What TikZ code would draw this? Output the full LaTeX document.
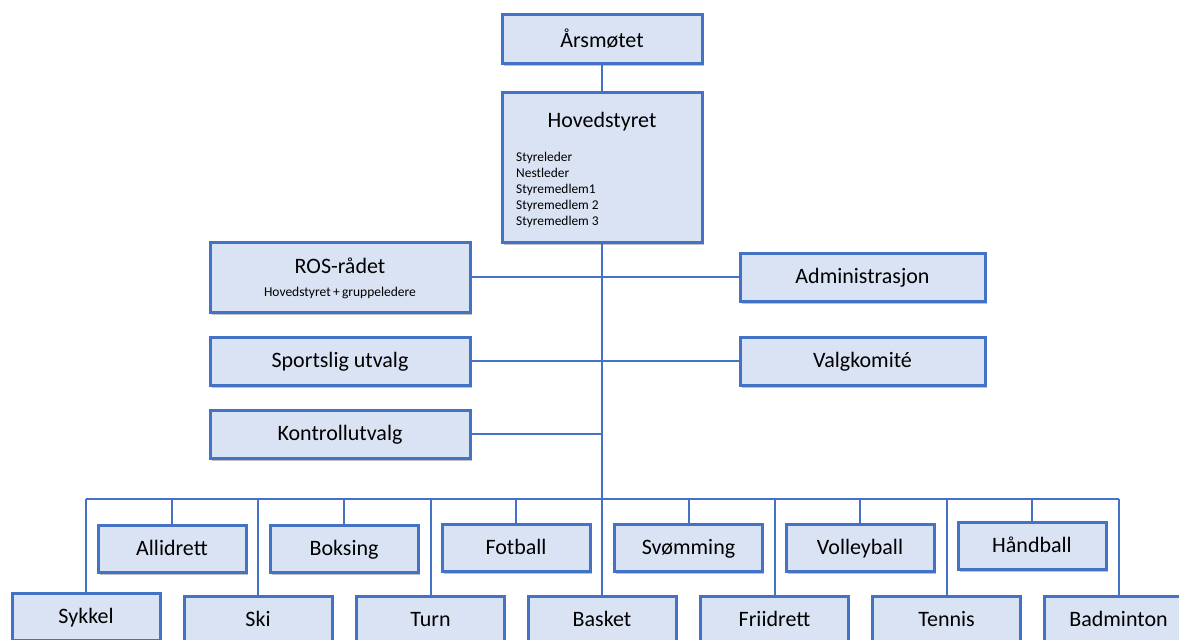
\documentclass[tikz,border=0pt]{standalone}
\usepackage{fontspec}
\setmainfont{Carlito}
\usepackage{tikz}
\usetikzlibrary{positioning, calc, shadows}

\definecolor{boxfill}{HTML}{DAE3F3}
\definecolor{boxline}{HTML}{4472C4}

\begin{document}
\begin{tikzpicture}[
  x=1pt, y=-1pt,
  every node/.style={font=\fontsize{22}{26}\selectfont},
  unit/.style={draw=boxline, line width=3pt, fill=boxfill, inner sep=0pt,
    text depth=2pt,
    drop shadow={shadow xshift=1.5pt, shadow yshift=-2.5pt, opacity=0.35, fill=black!70}},
  club/.style={unit, minimum width=148pt, minimum height=47pt},
  board/.style={unit, minimum width=260pt, minimum height=48pt},
  link/.style={draw=boxline, line width=2.5pt},
  bus/.style={draw=boxline, line width=2pt},
  small/.style={font=\fontsize{13.4}{16}\selectfont, align=left, inner sep=0pt},
]
  \clip (0,0) rectangle (1179,640);

  % Top
  \node[unit, minimum width=200pt, minimum height=49pt] (arsmote) at (602,39) {Årsmøtet};
  \node[unit, minimum width=200pt, minimum height=150pt] (hoved) at (602,167) {};
  \node[anchor=center] (hovedtitle) at (602,122) {Hovedstyret};
  \node[small, anchor=north west] (hovedlist) at (516,152)
       {Styreleder\\Nestleder\\Styremedlem1\\Styremedlem 2\\Styremedlem 3};

  % Boards and committees
  \node[board, minimum height=70pt, align=center, text depth=0pt] (ros) at (340,277)
       {ROS-rådet\\[-3pt]{\fontsize{13.5}{15}\selectfont Hovedstyret\,+\,gruppeledere}};
  \node[board, minimum width=245pt] (admin) at (862.5,277) {Administrasjon};
  \node[board] (sport) at (340,361) {Sportslig utvalg};
  \node[board, minimum width=245pt] (valg) at (862.5,361) {Valgkomité};
  \node[board] (kontroll) at (340,434) {Kontrollutvalg};

  \coordinate (bus) at (602,499);
  \coordinate (busleft) at (86,499);
  \coordinate (busright) at (1119,499);
  \coordinate (kontrolltap) at (602,434);

  \draw[link] (arsmote) -- (hoved);
  \draw[link] (hoved) -- (bus);
  \draw[link] (ros) -- (admin);
  \draw[link] (sport) -- (valg);
  \draw[link] (kontroll) -- (kontrolltap);
  \draw[bus] (busleft) -- (busright);

  % Groups, upper row
  \foreach \name/\x/\y/\txt in {
      allidrett/172/549/Allidrett, boksing/344/549/Boksing,
      fotball/516/547.5/Fotball, svomming/688.5/547.5/Svømming,
      volleyball/860/547.5/Volleyball, handball/1032/545.5/Håndball} {
    \node[club] (\name) at (\x,\y) {\txt};
    \draw[bus] (bus -| \name) -- (\name);
  }

  % Groups, lower row
  \foreach \name/\x/\y/\txt in {
      sykkel/86/617/Sykkel, ski/258/620/Ski, turn/430.5/620/Turn,
      basket/602/620/Basket, friidrett/774.5/620/Friidrett,
      tennis/946.5/620/Tennis, badminton/1118.5/620/Badminton} {
    \node[club] (\name) at (\x,\y) {\txt};
    \draw[bus] (bus -| \name) -- (\name);
  }
\end{tikzpicture}
\end{document}
